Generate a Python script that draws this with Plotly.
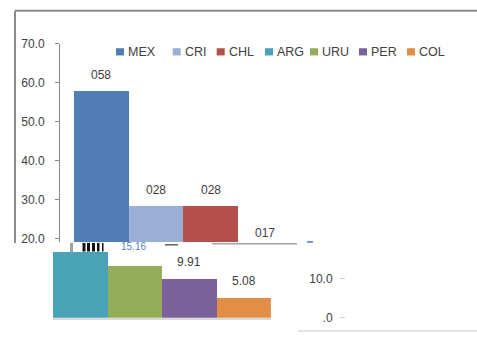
import plotly.graph_objects as go

W, H = 477, 341

# ---- data ----
countries = ["MEX", "CRI", "CHL", "ARG", "URU", "PER", "COL"]
values = [58.0, 28.4, 28.4, 16.8, 13.3, 9.91, 5.08]
colors = ["#4F7DB4", "#9AAFD6", "#B54F4C", "#4AA2B6", "#95AD58", "#7B6199", "#E38E46"]
top_labels = ["058", "028", "028", "017"]          # labels shown in upper pane
bottom_labels = ["", "", "9.91", "5.08"]            # labels shown in lower pane
top_ticks = [20, 30, 40, 50, 60, 70]
bottom_tickvals = [0, 10]
bottom_ticktext = [".0", "10.0"]

top_idx = [0, 1, 2, 3]
bot_idx = [3, 4, 5, 6]

def fx(p):
    return p / W

def fy(p):
    return 1 - p / H

TXT = "#404040"
FONT = "Liberation Sans, Arial, sans-serif"

fig = go.Figure()

fig.add_trace(go.Bar(
    x=list(range(len(top_idx))), y=[values[i] for i in top_idx],
    marker=dict(color=[colors[i] for i in top_idx], line=dict(width=0)),
    width=1, xaxis="x", yaxis="y", showlegend=False, hoverinfo="skip",
))
fig.add_trace(go.Bar(
    x=list(range(len(bot_idx))), y=[values[i] for i in bot_idx],
    marker=dict(color=[colors[i] for i in bot_idx], line=dict(width=0)),
    width=1, xaxis="x2", yaxis="y2", showlegend=False, hoverinfo="skip",
))

unit = 54.6
top_y_min = 19.19
annotations = []
for k, i in enumerate(top_idx):
    v = values[i]
    if v >= top_y_min:
        annotations.append(dict(x=k, y=v, xref="x", yref="y", text=top_labels[k],
                                showarrow=False, yshift=16, xanchor="center", yanchor="middle",
                                font=dict(size=12, color=TXT, family=FONT)))
    else:
        annotations.append(dict(x=k, y=21.5, xref="x", yref="y", text=top_labels[k],
                                showarrow=False, xanchor="center", yanchor="middle",
                                font=dict(size=12, color=TXT, family=FONT)))
for k, i in enumerate(bot_idx):
    if bottom_labels[k]:
        annotations.append(dict(x=k, y=values[i], xref="x2", yref="y2", text=bottom_labels[k],
                                showarrow=False, yshift=17, xanchor="center", yanchor="middle",
                                font=dict(size=12, color=TXT, family=FONT)))
# garbled fragment of a hidden label
annotations.append(dict(x=fx(133), y=fy(250), xref="paper", yref="paper", text="15.16",
                        xanchor="center", yanchor="middle",
                        showarrow=False, font=dict(size=10, color="#5A7FB8", family=FONT)))

# manual legend
leg_x = [116, 172.7, 216.7, 265, 310, 359, 407]
shapes = []
for name, c, lx in zip(countries, colors, leg_x):
    shapes.append(dict(type="rect", xref="paper", yref="paper", x0=fx(lx), x1=fx(lx + 8),
                       y0=fy(50.5), y1=fy(43), fillcolor=c, line=dict(width=0)))
    annotations.append(dict(x=fx(lx + 10), y=fy(46.5), xref="paper", yref="paper", text=name,
                            xanchor="left", yanchor="middle", showarrow=False,
                            font=dict(size=12.5, color=TXT, family=FONT)))

# frame / artifacts
shapes += [
    dict(type="line", xref="paper", yref="paper", x0=fx(15), x1=fx(15), y0=fy(4), y1=fy(246),
         line=dict(color="#8C8C8C", width=2)),
    dict(type="line", xref="paper", yref="paper", x0=fx(15), x1=fx(477), y0=fy(4), y1=fy(4),
         line=dict(color="#8C8C8C", width=2)),
    dict(type="line", xref="paper", yref="paper", x0=fx(212), x1=fx(297), y0=fy(247), y1=fy(247),
         line=dict(color="#A6A6A6", width=1.5)),
    dict(type="line", xref="paper", yref="paper", x0=fx(307), x1=fx(313), y0=fy(245), y1=fy(245),
         line=dict(color="#4F7DB4", width=1.5)),
    dict(type="line", xref="paper", yref="paper", x0=fx(298), x1=fx(477), y0=fy(338), y1=fy(338),
         line=dict(color="#D9D9D9", width=1.5)),
    dict(type="rect", xref="paper", yref="paper", x0=fx(70), x1=fx(73), y0=fy(256), y1=fy(246),
         fillcolor="#A0A0A0", line=dict(width=0)),
    dict(type="line", xref="paper", yref="paper", x0=fx(165), x1=fx(178), y0=fy(248), y1=fy(248),
         line=dict(color="#606060", width=1.5)),
]
for a, b in [(82.5, 85.5), (87, 90), (92, 95), (97, 99.5), (102, 103.5)]:
    shapes.append(dict(type="rect", xref="paper", yref="paper", x0=fx(a), x1=fx(b),
                       y0=fy(255), y1=fy(246), fillcolor="#111111", line=dict(width=0)))

top_left = -0.5 - 14 / unit
fig.update_layout(
    width=W, height=H, margin=dict(l=0, r=0, t=0, b=0),
    paper_bgcolor="white", plot_bgcolor="rgba(0,0,0,0)",
    bargap=0, showlegend=False,
    font=dict(family=FONT, size=12, color=TXT),
    xaxis=dict(domain=[fx(60), fx(330)], range=[top_left, top_left + 270 / unit],
               anchor="y", showline=False, showticklabels=False, ticks="", showgrid=False, zeroline=False),
    yaxis=dict(domain=[fy(245), fy(38.5)], range=[top_y_min, 70], anchor="x",
               tickvals=top_ticks, tickformat=".1f", ticks="outside", ticklen=4,
               tickcolor="#868686", showline=True, linecolor="#868686", linewidth=1,
               showgrid=False, zeroline=False, ticklabelstandoff=8,
               tickfont=dict(size=12, color=TXT, family=FONT)),
    xaxis2=dict(domain=[fx(52.5), fx(52.5 + 4 * unit)], range=[-0.5, 3.5], anchor="y2",
                showline=True, linecolor="#D9D9D9", linewidth=1.5, showticklabels=False,
                ticks="", showgrid=False, zeroline=False),
    yaxis2=dict(domain=[fy(324), fy(253)], range=[0, (324 - 253) / 4.1], anchor="free",
                position=fx(345), side="left", tickvals=bottom_tickvals, ticktext=bottom_ticktext,
                ticks="outside", ticklen=5, tickcolor="#D0D0D0", showline=False, showgrid=False,
                zeroline=False, ticklabelstandoff=5, tickfont=dict(size=12, color=TXT, family=FONT)),
    annotations=annotations, shapes=shapes,
)

fig.write_html("out.html")
